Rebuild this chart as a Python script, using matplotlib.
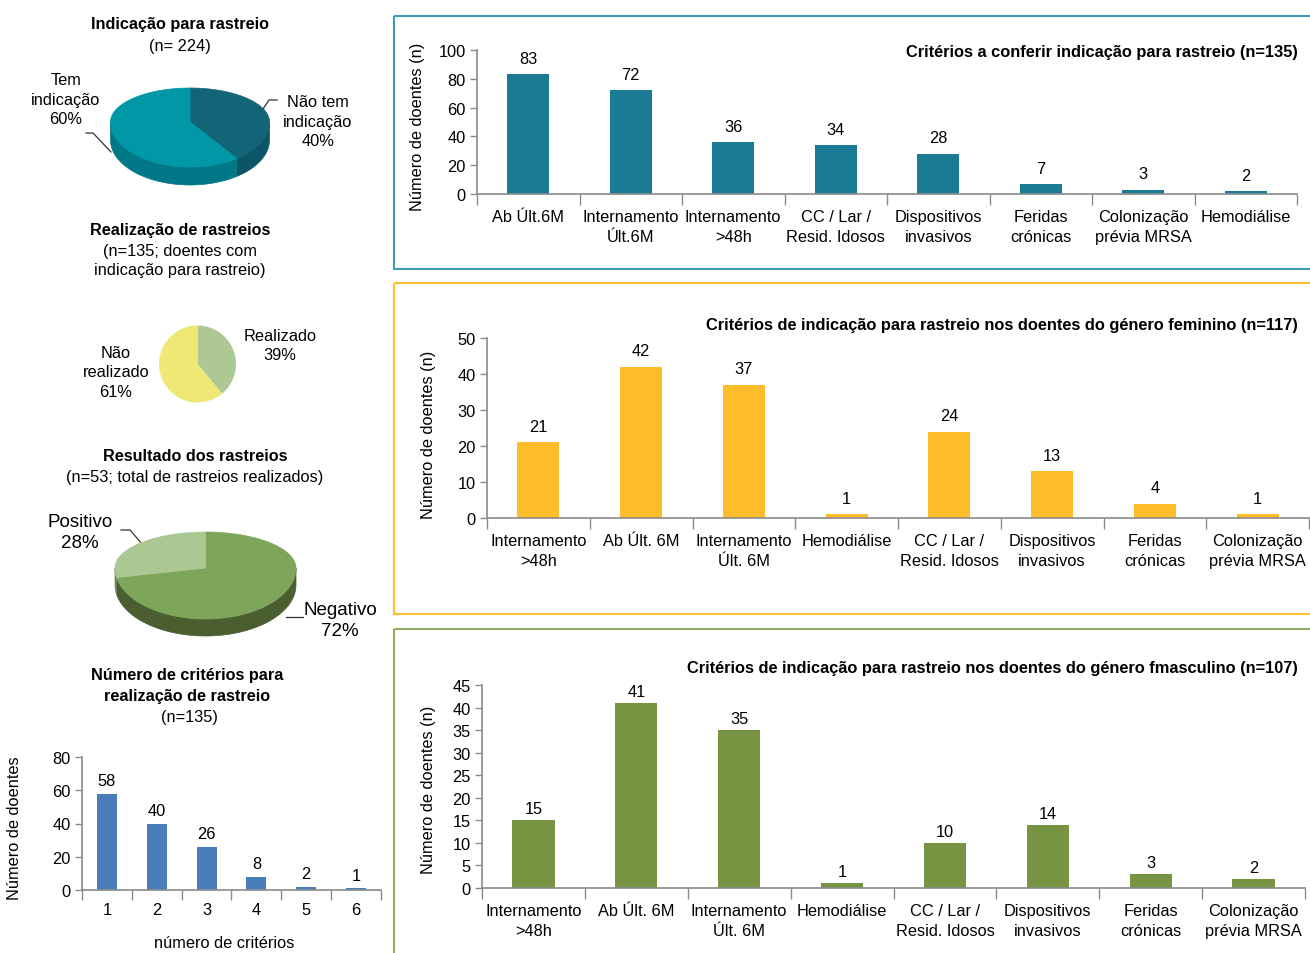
import numpy as np
import matplotlib
matplotlib.use("Agg")
import matplotlib.pyplot as plt
from matplotlib.patches import Polygon, Rectangle

plt.rcParams['font.family'] = ['Liberation Sans', 'DejaVu Sans']
plt.rcParams['font.size'] = 11.8

# ---- dados ----
ind_labels = ['Não tem\nindicação\n40%', 'Tem\nindicação\n60%']
ind_pct = [40, 60]

real_labels = ['Realizado\n39%', 'Não\nrealizado\n61%']
real_pct = [39, 61]

res_labels = ['Negativo\n72%', 'Positivo\n28%']
res_pct = [72, 28]

ncrit = ['1', '2', '3', '4', '5', '6']
ncrit_vals = [58, 40, 26, 8, 2, 1]

cat_total = ['Ab Últ.6M', 'Internamento\nÚlt.6M', 'Internamento\n>48h', 'CC / Lar /\nResid. Idosos',
             'Dispositivos\ninvasivos', 'Feridas\ncrónicas', 'Colonização\nprévia MRSA', 'Hemodiálise']
val_total = [83, 72, 36, 34, 28, 7, 3, 2]

cat_fem = ['Internamento\n>48h', 'Ab Últ. 6M', 'Internamento\nÚlt. 6M', 'Hemodiálise', 'CC / Lar /\nResid. Idosos',
           'Dispositivos\ninvasivos', 'Feridas\ncrónicas', 'Colonização\nprévia MRSA']
val_fem = [21, 42, 37, 1, 24, 13, 4, 1]

cat_masc = cat_fem
val_masc = [15, 41, 35, 1, 10, 14, 3, 2]

W, H = 1310, 954
fig = plt.figure(figsize=(W / 100, H / 100), dpi=100)

bg = fig.add_axes([0, 0, 1, 1])
bg.set_xlim(0, W)
bg.set_ylim(H, 0)
bg.axis('off')

LS = 1.4  # espaçamento entre linhas


def px_axes(l, t, r, b):
    return fig.add_axes([l / W, 1 - b / H, (r - l) / W, (b - t) / H])


def pie3d(cx, cy, rx, ry_top, ry_bot, depth, pct, tops, sides):
    def pts(a0, a1, dy=0):
        th = np.radians(np.linspace(a0, a1, 80))
        s = np.sin(th)
        ry = np.where(s > 0, ry_top, ry_bot)
        return np.column_stack([cx + rx * np.cos(th), cy - ry * s + dy])

    bounds = 90 - 360 * np.concatenate([[0], np.cumsum(pct) / np.sum(pct)])
    for i in range(len(pct)):
        hi, lo = bounds[i], bounds[i + 1]
        for k in (-360, 0, 360):
            a, b = max(lo, -180 + k), min(hi, k)
            if b > a:
                top = pts(a, b)
                bot = pts(b, a, depth)
                bg.add_patch(Polygon(np.vstack([top, bot]), closed=True, fc=sides[i],
                                     ec=sides[i], lw=0.5, zorder=2))
    for i in range(len(pct)):
        hi, lo = bounds[i], bounds[i + 1]
        arc = pts(hi, lo)
        bg.add_patch(Polygon(np.vstack([[cx, cy], arc]), closed=True, fc=tops[i],
                             ec=tops[i], lw=0.5, zorder=3))


def bar_panel(box, cats, vals, color, ymax, step, gap, width=0.41):
    ax = px_axes(*box)
    ax.patch.set_alpha(0)
    x = np.arange(len(cats))
    ax.bar(x, vals, width=width, color=color, zorder=2)
    ax.set_xlim(-0.5, len(cats) - 0.5)
    ax.set_ylim(0, ymax)
    ax.set_yticks(np.arange(0, ymax + 1, step))
    ax.set_xticks(np.arange(len(cats) + 1) - 0.5)
    ax.set_xticklabels([])
    ax.set_xticks(x, minor=True)
    ax.set_xticklabels(cats, minor=True, linespacing=LS)
    ax.tick_params(axis='x', which='major', direction='out', length=8, color='#8a8a8a', width=1)
    ax.tick_params(axis='x', which='minor', length=0, pad=11)
    ax.tick_params(axis='y', direction='out', length=5, color='#8a8a8a', width=1, pad=3)
    for s in ('top', 'right'):
        ax.spines[s].set_visible(False)
    for s in ('left', 'bottom'):
        ax.spines[s].set_color('#8a8a8a')
        ax.spines[s].set_linewidth(1.2)
    for xi, v in zip(x, vals):
        ax.annotate(str(v), (xi, v), xytext=(0, gap), textcoords='offset points',
                    ha='center', va='bottom')
    return ax


# ---- caixas dos painéis ----
bg.add_patch(Rectangle((394, 17), 940, 253, fill=False, ec='#3d9bb3', lw=1.5))
bg.add_patch(Rectangle((394, 284), 940, 331, fill=False, ec='#fdc02f', lw=1.5))
bg.add_patch(Rectangle((394, 630), 940, 340, fill=False, ec='#8fae63', lw=1.5))

# ---- coluna esquerda: títulos ----
bold = dict(fontweight='bold', fontsize=11.7)
bg.text(180, 25, 'Indicação para rastreio', ha='center', va='center', **bold)
bg.text(180, 46, '(n= 224)', ha='center', va='center')
bg.text(180, 230, 'Realização de rastreios', ha='center', va='center', **bold)
bg.text(180, 261, '(n=135; doentes com\nindicação para rastreio)', ha='center', va='center',
        linespacing=LS)
bg.text(195, 457, 'Resultado dos rastreios', ha='center', va='center', **bold)
bg.text(195, 478, '(n=53; total de rastreios realizados)', ha='center', va='center')
bg.text(187, 686, 'Número de critérios para\nrealização de rastreio', ha='center', va='center',
        linespacing=1.5, **bold)
bg.text(189, 718, '(n=135)', ha='center', va='center')

# ---- pie 1 (3D) ----
pie3d(190, 123, 79.5, 34, 45, 18, ind_pct,
      tops=['#126477', '#0097a7'], sides=['#0d5566', '#007887'])
bg.text(318, 122, ind_labels[0], ha='center', va='center', linespacing=LS)
bg.text(66, 100, ind_labels[1], ha='center', va='center', linespacing=LS)
bg.plot([86, 93, 111], [134, 134, 153], color='#333333', lw=0.9)
bg.plot([263, 269, 277], [110, 101, 101], color='#333333', lw=0.9)

# ---- pie 2 ----
ax2 = px_axes(159, 326.5, 236, 403.5)
ax2.pie(real_pct, colors=['#adc893', '#f0e874'], startangle=90, counterclock=False,
        wedgeprops=dict(linewidth=0))
ax2.set_xlim(-1, 1)
ax2.set_ylim(-1, 1)
bg.text(280, 346, real_labels[0], ha='center', va='center', linespacing=LS)
bg.text(116, 373, real_labels[1], ha='center', va='center', linespacing=LS)

# ---- pie 3 (3D) ----
pie3d(205.5, 569, 90.5, 36, 51, 17, res_pct,
      tops=['#7ea65a', '#abc893'], sides=['#4b5e2f', '#6f8650'])
bg.text(340, 621, res_labels[0], ha='center', va='center', fontsize=13.5, linespacing=1.3)
bg.text(80, 533, res_labels[1], ha='center', va='center', fontsize=13.5, linespacing=1.3)
bg.plot([121, 130, 143], [531, 531, 546], color='#333333', lw=0.9)
bg.plot([286, 303], [618, 618], color='#333333', lw=0.9)

# ---- número de critérios ----
axc = bar_panel((82, 758, 381, 891), ncrit, ncrit_vals, '#4a7ebb', 80, 20, 4, width=0.4)
axc.tick_params(axis='x', which='major', length=7)
axc.tick_params(axis='x', which='minor', pad=9)
axc.set_ylabel('Número de doentes')
axc.yaxis.set_label_coords(-0.2, 0.47)
bg.text(224, 944, 'número de critérios', ha='center', va='center')

# ---- painéis da direita ----
a1 = bar_panel((477, 51, 1297, 195), cat_total, val_total, '#1b7b95', 100, 20, 6)
a1.set_ylabel('Número de doentes (n)')
a1.yaxis.set_label_coords(-0.064, 0.47)
bg.text(1298, 53, 'Critérios a conferir indicação para rastreio (n=135)', ha='right',
        va='center', fontweight='bold')

a2 = bar_panel((487, 339, 1309, 519), cat_fem, val_fem, '#fdbd2b', 50, 10, 6)
a2.set_ylabel('Número de doentes (n)')
a2.yaxis.set_label_coords(-0.062, 0.47)
bg.text(1298, 326, 'Critérios de indicação para rastreio nos doentes do género feminino (n=117)',
        ha='right', va='center', fontweight='bold')

a3 = bar_panel((482, 686, 1305, 889), cat_masc, val_masc, '#779443', 45, 5, 3)
a3.set_ylabel('Número de doentes (n)')
a3.yaxis.set_label_coords(-0.056, 0.49)
bg.text(1298, 669, 'Critérios de indicação para rastreio nos doentes do género fmasculino (n=107)',
        ha='right', va='center', fontweight='bold')

fig.savefig('out.png', dpi=100)
